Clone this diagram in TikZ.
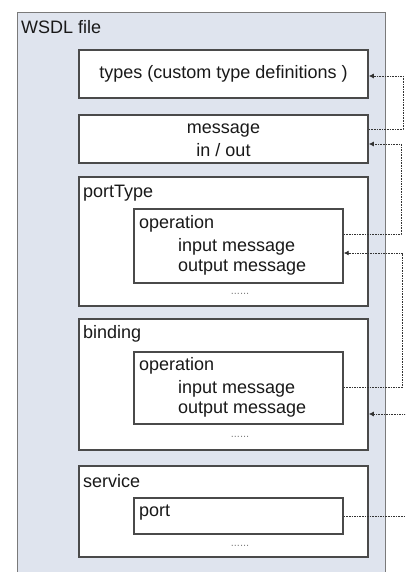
\documentclass[tikz,border=0pt]{standalone}
\usepackage{fontspec}
\setmainfont{Liberation Sans}
\usetikzlibrary{arrows.meta,calc}
\definecolor{outerfill}{HTML}{DFE4EE}
\definecolor{outerline}{HTML}{7A7A7A}
\definecolor{boxline}{HTML}{4A4A4A}
\definecolor{connline}{HTML}{333333}
\tikzset{
  outerbox/.style={draw=outerline,fill=outerfill,line width=1.3pt,minimum width=368pt,minimum height=570pt,anchor=north west,inner sep=0pt},
  blockbox/.style={draw=boxline,fill=white,line width=1.5pt,minimum width=289pt,inner sep=0pt},
  innerbox/.style={draw=boxline,fill=white,line width=1.4pt,minimum width=209pt,inner sep=0pt},
  lbl/.style={inner sep=0pt,anchor=west,text=black!90,font=\fontsize{18}{21}\selectfont},
  ctr/.style={inner sep=0pt,text=black!90,font=\fontsize{18}{21}\selectfont},
  dots/.style={inner sep=0pt,text=gray,font=\fontsize{11}{12}\selectfont},
  conn/.style={draw=connline,line width=0.9pt,dash pattern=on 1.6pt off 1pt},
  arr/.style={-{Latex[length=5pt,width=5pt]}}
}
\begin{document}
\begin{tikzpicture}[x=1pt,y=-1pt]
\useasboundingbox (0,0) rectangle (405,572);
\clip (0,0) rectangle (405,572);
% outer WSDL box
\node[outerbox] (wsdl) at (17,12) {};
\node[lbl] (wsdltxt) at (21,27) {WSDL file};
% types
\node[blockbox,minimum height=48pt] (types) at (223.5,74) {};
\node[ctr] (typestxt) at (223.5,74) {types (custom type definitions )};
% message
\node[blockbox,minimum height=48pt] (msg) at (223.5,139) {};
\node[ctr] (msgtxt1) at (223.5,130.5) {message};
\node[ctr] (msgtxt2) at (223.5,150.5) {in / out};
% portType
\node[blockbox,minimum height=129pt] (pt) at (223.5,241.5) {};
\node[lbl] (pttxt) at (83,193) {portType};
\node[innerbox,minimum height=74pt] (op1) at (238.5,246) {};
\node[lbl] (op1a) at (139,224) {operation};
\node[lbl] (op1b) at (178,247) {input message};
\node[lbl] (op1c) at (178,268) {output message};
\node[dots] (d1) at (240,294) {......};
% binding
\node[blockbox,minimum height=131pt] (bd) at (223.5,384.5) {};
\node[lbl] (bdtxt) at (83,334) {binding};
\node[innerbox,minimum height=72pt] (op2) at (238.5,388) {};
\node[lbl] (op2a) at (139,366) {operation};
\node[lbl] (op2b) at (178,388.5) {input message};
\node[lbl] (op2c) at (178,410) {output message};
\node[dots] (d2) at (240,437) {......};
% service
\node[blockbox,minimum height=91pt] (svc) at (223.5,511.5) {};
\node[lbl] (svctxt) at (83,481) {service};
\node[innerbox,minimum height=36pt] (port) at (238.5,516) {};
\node[lbl] (porttxt) at (139,513) {port};
\node[dots] (d3) at (240,546) {......};
% connectors
\coordinate (k1) at (403,0);
\coordinate (k2) at (401,0);
\coordinate (k3) at (402.5,0);
\coordinate (k4) at (407,0);
\coordinate (s1) at ([yshift=10pt]msg.east);
\coordinate (e1) at ([yshift=-2pt]types.east);
\coordinate (s2) at ([yshift=12pt]op1.east);
\coordinate (e2) at ([yshift=-5pt]msg.east);
\coordinate (s3) at ([yshift=1pt]op2.east);
\coordinate (e3) at ([yshift=-7pt]op1.east);
\coordinate (s4) at (port.east);
\coordinate (e4) at ([yshift=-29.5pt]bd.east);
\draw[conn,arr] (s1) -- (s1 -| k1) |- (e1);
\draw[conn,arr] (s2) -- (s2 -| k2) |- (e2);
\draw[conn,arr] (s3) -- (s3 -| k3) |- (e3);
\draw[conn,arr] (s4) -- (s4 -| k4) |- (e4);
\end{tikzpicture}
\end{document}
